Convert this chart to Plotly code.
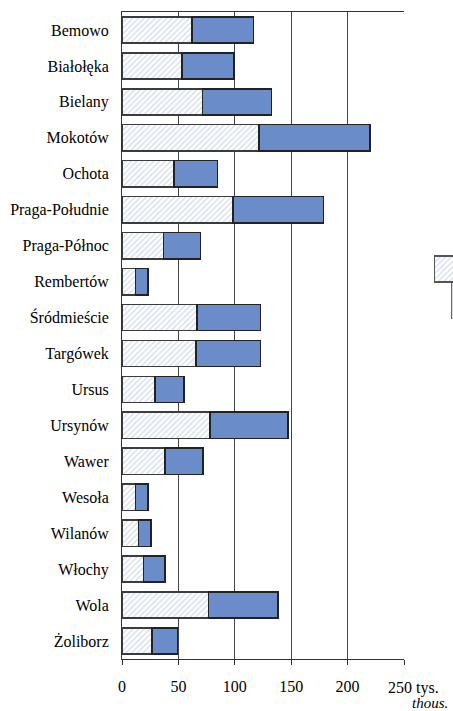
import plotly.graph_objects as go

# Warsaw districts, values in thousands
districts = ["Bemowo", "Białołęka", "Bielany", "Mokotów", "Ochota", "Praga-Południe",
             "Praga-Północ", "Rembertów", "Śródmieście", "Targówek", "Ursus", "Ursynów",
             "Wawer", "Wesoła", "Wilanów", "Włochy", "Wola", "Żoliborz"]
first_part = [62.1, 53.2, 71.5, 121.2, 46.1, 98.4, 36.7, 12.1, 66.5, 65.6,
              29.3, 78.0, 37.9, 12.0, 14.5, 19.2, 76.6, 26.6]
totals = [116.5, 99.3, 132.4, 219.9, 84.8, 178.5, 69.5, 23.1, 122.7, 122.7,
          54.7, 146.9, 71.8, 23.1, 25.7, 37.9, 138.3, 49.1]
second_part = [round(t - f, 1) for t, f in zip(totals, first_part)]

tick_vals = [0, 50, 100, 150, 200, 250]
tick_text = ["0", "50", "100", "150", "200", ""]

W, H = 453, 711
# plot box in pixels
L, R, T, B = 122, 404, 12, 659

SERIF = "Liberation Serif"
HATCH = dict(shape="/", size=4, fgcolor="#a9bbdc", solidity=0.35)
BLUE = "#6a8cc8"

fig = go.Figure()
fig.add_trace(go.Bar(
    y=districts, x=first_part, orientation="h",
    marker=dict(color="white", pattern=HATCH, line=dict(color="#3c3c3c", width=1.6)),
    showlegend=False,
))
fig.add_trace(go.Bar(
    y=districts, x=second_part, orientation="h",
    marker=dict(color=BLUE, line=dict(color="#222222", width=1.6)),
    showlegend=False,
))

# legend key at the right edge (partly outside the page)
fig.add_trace(go.Bar(
    y=[0], x=[5], base=0, orientation="h", xaxis="x2", yaxis="y2",
    marker=dict(color="white", pattern=HATCH, line=dict(color="#555555", width=1.5)),
    width=1.0, showlegend=False,
))

fig.update_layout(
    width=W, height=H,
    margin=dict(l=0, r=0, t=0, b=0),
    plot_bgcolor="white",
    barmode="stack", bargap=0.27,
    font=dict(family=SERIF, size=16),
    xaxis=dict(
        domain=[L / W, R / W], range=[0, 250],
        tickvals=tick_vals, ticktext=tick_text,
        showgrid=True, gridcolor="#444444", gridwidth=1,
        showline=True, linecolor="#333333", linewidth=1, mirror=True,
        ticks="outside", ticklen=5, tickcolor="#333333",
        zeroline=False, ticklabelstandoff=8,
        tickfont=dict(family=SERIF, size=16, color="black"),
        automargin=False,
    ),
    yaxis=dict(
        domain=[1 - B / H, 1 - T / H],
        autorange="reversed", categoryorder="array", categoryarray=districts,
        showline=True, linecolor="#333333", linewidth=1,
        showgrid=False, ticks="", ticklabelstandoff=9,
        tickfont=dict(family=SERIF, size=16, color="black"),
        automargin=False,
    ),
    xaxis2=dict(domain=[432 / W, 1], range=[-0.3, 2], visible=False, anchor="y2"),
    yaxis2=dict(domain=[1 - 290 / H, 1 - 248 / H], range=[-0.8, 0.8], visible=False, anchor="x2"),
)

fig.add_annotation(
    x=250, y=1 - 688 / H, xref="x", yref="paper", text="250 tys.",
    xanchor="left", yanchor="middle", xshift=-18, showarrow=False,
    font=dict(family=SERIF, size=16, color="black"),
)
fig.add_annotation(
    x=450 / W, y=1 - 703 / H, xref="paper", yref="paper", text="<i>thous.</i>",
    xanchor="right", yanchor="middle", showarrow=False,
    font=dict(family=SERIF, size=15, color="black"),
)
fig.add_shape(
    type="line", xref="paper", yref="paper",
    x0=451.7 / W, x1=451.7 / W, y0=1 - 282 / H, y1=1 - 319 / H,
    line=dict(color="#444444", width=1),
)

fig.write_html("out.html")
